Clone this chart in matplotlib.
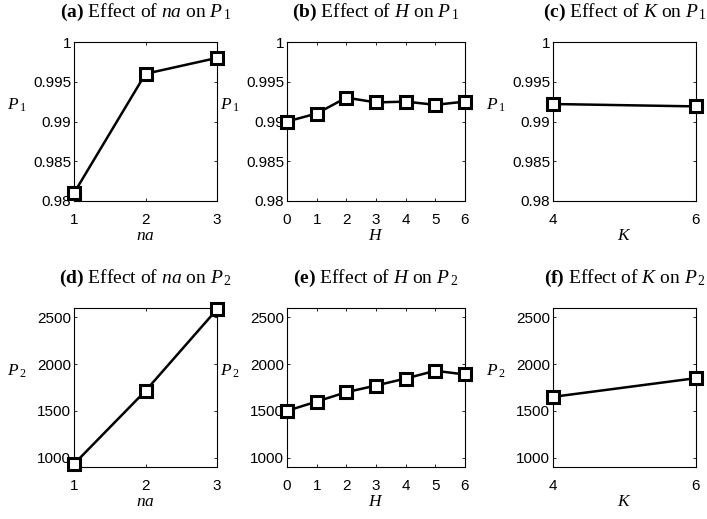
import matplotlib
matplotlib.use("Agg")
import matplotlib.pyplot as plt

plt.rcParams["mathtext.fontset"] = "custom"
plt.rcParams["mathtext.rm"] = "Liberation Serif"
plt.rcParams["mathtext.it"] = "Liberation Serif:italic"
plt.rcParams["mathtext.bf"] = "Liberation Serif:bold"
plt.rcParams["font.family"] = "Liberation Sans"

# data
na_vals = [1, 2, 3]
H_vals = [0, 1, 2, 3, 4, 5, 6]
K_vals = [4, 6]

p1_na = [0.981, 0.996, 0.998]
p1_H = [0.990, 0.991, 0.993, 0.9924, 0.9925, 0.9921, 0.9925]
p1_K = [0.9922, 0.9919]

p2_na = [932, 1714, 2586]
p2_H = [1500, 1600, 1700, 1771, 1846, 1929, 1889]
p2_K = [1650, 1850]

p1_ticks = [0.98, 0.985, 0.99, 0.995, 1.0]
p1_labels = ["0.98", "0.985", "0.99", "0.995", "1"]
p2_ticks = [1000, 1500, 2000, 2500]
p2_labels = ["1000", "1500", "2000", "2500"]

W, H = 707, 519
fig = plt.figure(figsize=(W / 100, H / 100), dpi=100)

# axes boxes in pixels: left, top, right, bottom
cols = [(74, 217), (287, 465), (553, 696)]
rows = [(42, 201), (308, 467)]

panels = [
    ("a", "na", 1, na_vals, p1_na),
    ("b", "H", 1, H_vals, p1_H),
    ("c", "K", 1, K_vals, p1_K),
    ("d", "na", 2, na_vals, p2_na),
    ("e", "H", 2, H_vals, p2_H),
    ("f", "K", 2, K_vals, p2_K),
]

for i, (tag, var, which, xs, ys) in enumerate(panels):
    l, r = cols[i % 3]
    t, b = rows[i // 3]
    ax = fig.add_axes([l / W, (H - b) / H, (r - l) / W, (b - t) / H])
    ax.plot(xs, ys, color="black", lw=1.8, marker="s", ms=8.2, mfc="white",
            mec="black", mew=2.2, clip_on=False, zorder=5)
    ax.set_xlim(xs[0], xs[-1])
    ax.set_xticks(xs)
    if which == 1:
        ax.set_ylim(0.98, 1.0)
        ax.set_yticks(p1_ticks)
        ax.set_yticklabels(p1_labels)
    else:
        ax.set_ylim(900, 2600)
        ax.set_yticks(p2_ticks)
        ax.set_yticklabels(p2_labels)
    ax.tick_params(direction="in", top=True, right=True, length=2, width=0.6,
                   labelsize=11)
    ax.tick_params(axis="x", pad=9)
    ax.tick_params(axis="y", pad=2)
    for s in ax.spines.values():
        s.set_linewidth(0.8)
    ax.set_title(rf"$\mathbf{{({tag})}}$ Effect of ${var}$ on $P_{{\,{which}}}$",
                 fontsize=14, family="Liberation Serif", pad=18)
    ax.set_xlabel(rf"${var}$", fontsize=12.5, labelpad=0)
    ax.set_ylabel(rf"$P_{{\,{which}}}$", fontsize=12.5, rotation=0, ha="center", va="center")
    ax.yaxis.set_label_coords(-57 / (r - l), 0.6)

fig.savefig("out.png", dpi=100)
